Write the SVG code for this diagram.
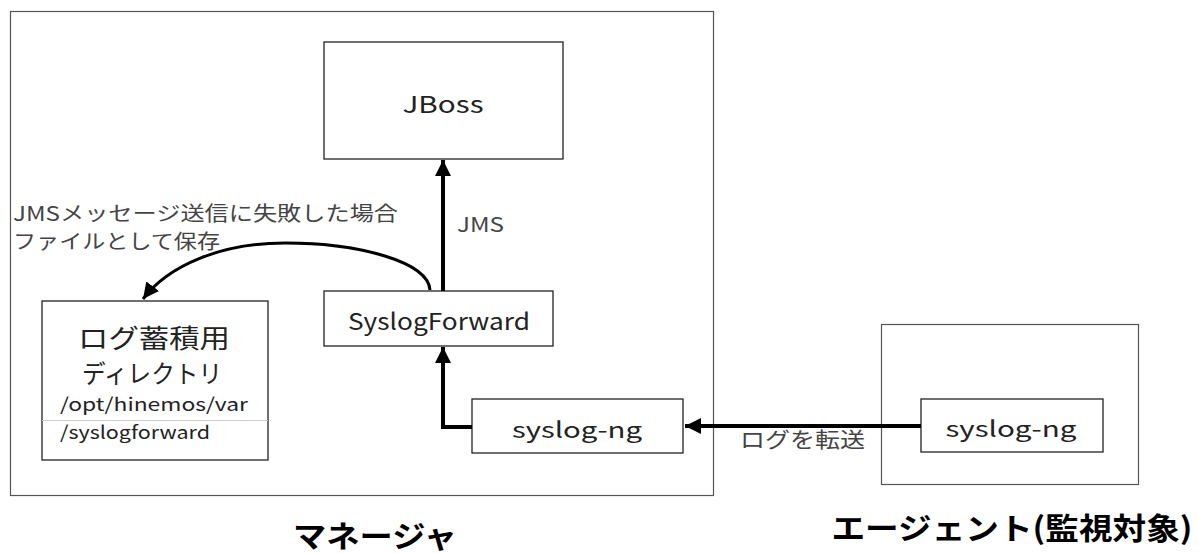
<svg xmlns="http://www.w3.org/2000/svg" width="1199" height="554" viewBox="0 0 1199 554">
<style>
.frame{fill:#fff;stroke:#555;stroke-width:1.2}
.box{fill:#fff;stroke:#222;stroke-width:1.3}
.t{font-family:"Noto Sans CJK JP","Noto Sans",sans-serif;fill:#222}
.lbl{font-family:"Noto Sans CJK JP","Noto Sans",sans-serif;fill:#444}
.big{font-family:"Noto Sans CJK JP",sans-serif;font-weight:bold;fill:#000}
.conn{fill:none;stroke:#000;stroke-width:4}
.curve{fill:none;stroke:#000;stroke-width:3}
</style>
<defs>
<marker id="ah" markerUnits="userSpaceOnUse" markerWidth="18" markerHeight="16" refX="16" refY="8" orient="auto">
<path d="M0,0 L16,8 L0,16 Z" fill="#000"/>
</marker>
</defs>
<rect width="1199" height="554" fill="#fff"/>
<g id="manager">
<rect class="frame" x="10.5" y="11.5" width="703" height="484"/>
<text class="big" x="375" y="547" font-size="30" text-anchor="middle" textLength="164" lengthAdjust="spacingAndGlyphs">マネージャ</text>
</g>
<g id="agent">
<rect class="frame" x="881.5" y="324.5" width="257" height="160"/>
<text class="big" x="1012" y="539" font-size="30" text-anchor="middle" textLength="361" lengthAdjust="spacingAndGlyphs">エージェント(監視対象)</text>
</g>
<g id="jboss">
<rect class="box" x="324" y="42" width="239" height="117"/>
<text class="t" x="443" y="113" font-size="23" text-anchor="middle" textLength="81" lengthAdjust="spacingAndGlyphs">JBoss</text>
</g>
<g id="syslogforward">
<rect class="box" x="324" y="291" width="229" height="55"/>
<text class="t" x="439" y="330" font-size="23" text-anchor="middle" textLength="182" lengthAdjust="spacingAndGlyphs">SyslogForward</text>
</g>
<g id="logdir">
<rect class="box" x="42" y="301" width="226" height="159"/>
<text class="t" x="154" y="348" font-size="26" text-anchor="middle" textLength="152" lengthAdjust="spacingAndGlyphs">ログ蓄積用</text>
<text class="t" x="152" y="383" font-size="25" text-anchor="middle" textLength="140" lengthAdjust="spacingAndGlyphs">ディレクトリ</text>
<text class="t" x="60" y="411" font-size="18" textLength="188" lengthAdjust="spacingAndGlyphs">/opt/hinemos/var</text>
<line x1="42" y1="420.5" x2="268" y2="420.5" stroke="#ccc" stroke-width="1"/>
<text class="t" x="60" y="439" font-size="18" textLength="150" lengthAdjust="spacingAndGlyphs">/syslogforward</text>
</g>
<g id="syslogng-manager">
<rect class="box" x="472" y="399" width="211" height="54"/>
<text class="t" x="577" y="438" font-size="22" text-anchor="middle" textLength="130" lengthAdjust="spacingAndGlyphs">syslog-ng</text>
</g>
<g id="syslogng-agent">
<rect class="box" x="921" y="399" width="182" height="53"/>
<text class="t" x="1011" y="437" font-size="22" text-anchor="middle" textLength="131" lengthAdjust="spacingAndGlyphs">syslog-ng</text>
</g>
<g id="connectors">
<line class="conn" x1="443" y1="291" x2="443" y2="160" marker-end="url(#ah)"/>
<text class="lbl" x="457" y="232" font-size="20" textLength="47" lengthAdjust="spacingAndGlyphs">JMS</text>
<path class="curve" d="M430,290 C428,262 360,243 285,243 C220,243 168,266 143,299" marker-end="url(#ah)"/>
<text class="lbl" x="13" y="221" font-size="20" textLength="385" lengthAdjust="spacingAndGlyphs">JMSメッセージ送信に失敗した場合</text>
<text class="lbl" x="13" y="249" font-size="20" textLength="207" lengthAdjust="spacingAndGlyphs">ファイルとして保存</text>
<polyline class="conn" points="472,427 443,427 443,347" marker-end="url(#ah)"/>
<line class="conn" x1="921" y1="426" x2="685" y2="426" marker-end="url(#ah)"/>
<text class="lbl" x="740" y="447" font-size="21" textLength="125" lengthAdjust="spacingAndGlyphs">ログを転送</text>
</g>
</svg>
